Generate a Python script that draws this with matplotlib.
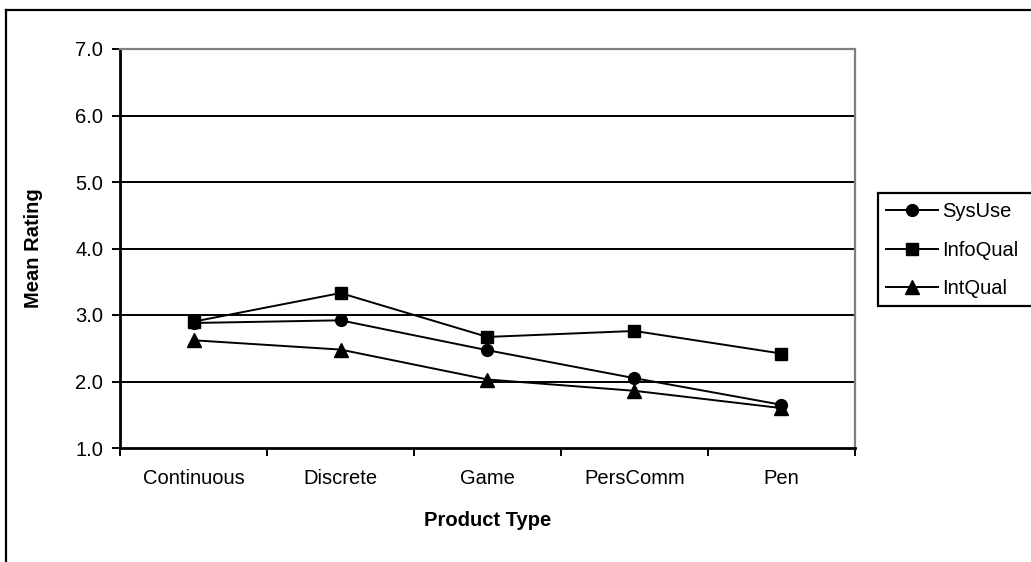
import matplotlib
matplotlib.use("Agg")
import matplotlib.pyplot as plt
from matplotlib.lines import Line2D
from matplotlib.patches import Rectangle
import numpy as np

categories = ["Continuous", "Discrete", "Game", "PersComm", "Pen"]
sys_use = [2.88, 2.92, 2.47, 2.05, 1.65]
info_qual = [2.90, 3.33, 2.67, 2.76, 2.42]
int_qual = [2.62, 2.48, 2.03, 1.86, 1.60]
y_ticks = [1.0, 2.0, 3.0, 4.0, 5.0, 6.0, 7.0]

plt.rcParams["font.family"] = ["Liberation Sans", "DejaVu Sans"]

W, H = 1031, 562
fig = plt.figure(figsize=(W / 100, H / 100), dpi=100)
ax = fig.add_axes([120 / W, (H - 448) / H, (855 - 120) / W, (448 - 49) / H])

x = np.arange(len(categories))
series = [
    ("SysUse", sys_use, "o", 8.5),
    ("InfoQual", info_qual, "s", 9.0),
    ("IntQual", int_qual, "^", 9.5),
]
for name, vals, mk, ms in series:
    ax.plot(x, vals, color="black", lw=1.4, marker=mk, markersize=ms,
            markerfacecolor="black", markeredgecolor="black", label=name,
            zorder=3)

ax.set_xlim(-0.5, len(categories) - 0.5)
ax.set_ylim(1.0, 7.0)
ax.set_yticks(y_ticks)
ax.set_yticklabels([f"{v:.1f}" for v in y_ticks], fontsize=14.5)
for v in y_ticks[1:-1]:
    ax.axhline(v, color="black", lw=1.4, zorder=1)

ax.set_xticks(x)
ax.set_xticklabels(categories, fontsize=14.5)
ax.set_xticks(np.arange(-0.5, len(categories), 1.0), minor=True)
ax.tick_params(axis="x", which="major", length=0, pad=15)
ax.tick_params(axis="x", which="minor", length=6, width=1.4, direction="out")
ax.tick_params(axis="y", length=6, width=1.4, direction="out", pad=6)

for side in ("left", "bottom"):
    ax.spines[side].set_color("black")
    ax.spines[side].set_linewidth(2.0)
for side in ("top", "right"):
    ax.spines[side].set_color("#808080")
    ax.spines[side].set_linewidth(1.6)

ax.set_xlabel("Product Type", fontsize=14.5, fontweight="bold", labelpad=17)
ax.set_ylabel("Mean Rating", fontsize=14.5, fontweight="bold", labelpad=23)

# outer chart frame (left and top edges)
fig.add_artist(Line2D([5.5 / W, 5.5 / W], [0, (H - 9.5) / H],
                      transform=fig.transFigure, color="black", lw=1.6))
fig.add_artist(Line2D([5.5 / W, 1], [(H - 9.5) / H, (H - 9.5) / H],
                      transform=fig.transFigure, color="black", lw=1.6))

# legend box
fig.add_artist(Rectangle((878 / W, (H - 306) / H), (1045 - 878) / W, (306 - 193) / H,
                         transform=fig.transFigure, facecolor="white",
                         edgecolor="black", lw=1.6))
fig.legend(loc="upper left", bbox_to_anchor=(870 / W, (H - 186) / H),
           frameon=False, fontsize=14.5, handlelength=2.6, handletextpad=0.2,
           labelspacing=0.97, borderpad=0.3)

fig.savefig("out.png", dpi=100)
